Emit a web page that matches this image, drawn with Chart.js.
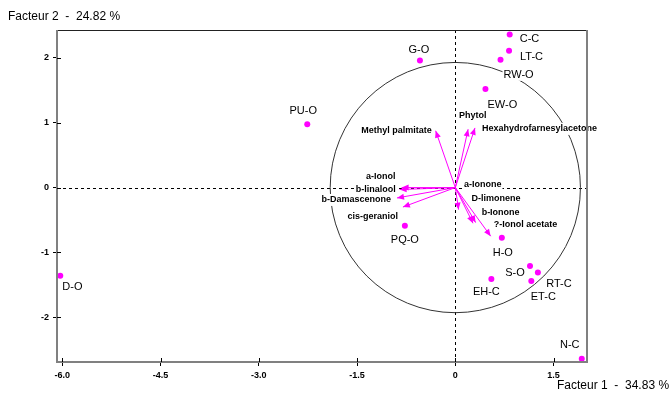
<!DOCTYPE html>
<html><head><meta charset="utf-8">
<script src="https://cdn.jsdelivr.net/npm/chart.js@4/dist/chart.umd.min.js"></script>
<style>html,body{margin:0;padding:0;background:#fff;}canvas{display:block;}</style>
</head><body>
<canvas id="c" width="669" height="394"></canvas>
<script>
// ---- data ----
const obsNames = ['C-C','LT-C','RW-O','EW-O','G-O','PU-O','D-O','PQ-O','H-O','S-O','RT-C','ET-C','EH-C','N-C'];
const obsX = [0.83, 0.82, 0.69, 0.46, -0.54, -2.26, -6.03, -0.77, 0.71, 1.14, 1.26, 1.16, 0.55, 1.93];
const obsY = [2.36, 2.11, 1.97, 1.52, 1.96, 0.975, -1.36, -0.59, -0.775, -1.21, -1.31, -1.44, -1.41, -2.64];
const varNames = ['Methyl palmitate','Phytol','Hexahydrofarnesylacetone','a-Ionol','b-linalool','b-Damascenone','cis-geraniol','a-Ionone','D-limonene','b-Ionone','?-Ionol acetate'];
const varX = [-0.30, 0.195, 0.30, -0.82, -0.85, -0.89, -0.80, 0.27, 0.05, 0.31, 0.54];
const varY = [0.876, 0.90, 0.92, 0.0, -0.03, -0.16, -0.30, -0.55, -0.34, -0.54, -0.75];
const xTicks = [-6.0, -4.5, -3.0, -1.5, 0, 1.5];
const yTicks = [-2, -1, 0, 1, 2];
const circleRadius = 1.91;
const xTitle = 'Facteur 1  -  34.83 %';
const yTitle = 'Facteur 2  -  24.82 %';

// ---- label placement (style only) ----
const obsLabelPlace = [[10,4,'left'],[11,6,'left'],[3,15,'left'],[2,16,'left'],[-1,-11,'center'],[-4,-13,'center'],[2,11,'left'],[0,14,'center'],[1,15,'center'],[-15,7,'center'],[21,11,'center'],[12,16,'center'],[-5,13,'center'],[-12,-14,'center']];
const varLabelPlace = [[-4,0,'right'],[-9,-14,'left'],[7,1,'left'],[-6,-11,'right'],[-4,0,'right'],[-6,2,'right'],[-5,9,'right'],[-9,-39,'left'],[13,-11,'left'],[6,-10,'left'],[3,-12,'left']];

const FONT = '"Liberation Sans", Arial, sans-serif';
const MAG = '#ff00ff';

function textBox(ctx, txt, x, y, align) {
  const w = ctx.measureText(txt).width;
  let left = align === 'left' ? x : align === 'right' ? x - w : x - w / 2;
  ctx.fillStyle = '#fff';
  ctx.fillRect(left - 1, y - 6, w + 2, 12);
  ctx.fillStyle = '#000';
  ctx.textAlign = align;
  ctx.textBaseline = 'middle';
  ctx.fillText(txt, x, y);
}

const pcaPlugin = {
  id: 'pca',
  beforeDatasetsDraw(chart) {
    const ctx = chart.ctx, xs = chart.scales.x, ys = chart.scales.y, a = chart.chartArea;
    const x0 = xs.getPixelForValue(0), y0 = ys.getPixelForValue(0);
    ctx.save();
    // dashed axes
    ctx.strokeStyle = '#000'; ctx.lineWidth = 1; ctx.setLineDash([3, 3]);
    ctx.beginPath();
    ctx.moveTo(Math.round(x0) + 0.5, a.top); ctx.lineTo(Math.round(x0) + 0.5, a.bottom);
    ctx.moveTo(a.left, Math.round(y0) + 0.5); ctx.lineTo(a.right, Math.round(y0) + 0.5);
    ctx.stroke();
    ctx.setLineDash([]);
    // correlation circle
    const r = xs.getPixelForValue(circleRadius) - x0;
    ctx.strokeStyle = '#333';
    ctx.beginPath(); ctx.arc(x0, y0, r, 0, Math.PI * 2); ctx.stroke();
    // observation labels
    ctx.font = '11px ' + FONT;
    obsNames.forEach((n, i) => {
      const px = xs.getPixelForValue(obsX[i]), py = ys.getPixelForValue(obsY[i]);
      const p = obsLabelPlace[i];
      textBox(ctx, n, px + p[0], py + p[1], p[2]);
    });
    // variable labels
    ctx.font = 'bold 9px ' + FONT;
    varNames.forEach((n, i) => {
      const px = xs.getPixelForValue(varX[i]), py = ys.getPixelForValue(varY[i]);
      const p = varLabelPlace[i];
      textBox(ctx, n, px + p[0], py + p[1], p[2]);
    });
    // arrows
    ctx.strokeStyle = MAG; ctx.fillStyle = MAG; ctx.lineWidth = 1;
    varNames.forEach((n, i) => {
      const px = xs.getPixelForValue(varX[i]), py = ys.getPixelForValue(varY[i]);
      const ang = Math.atan2(py - y0, px - x0);
      ctx.beginPath(); ctx.moveTo(x0, y0); ctx.lineTo(px, py); ctx.stroke();
      const L = 7, W = 3;
      ctx.beginPath();
      ctx.moveTo(px, py);
      ctx.lineTo(px - L * Math.cos(ang) + W * Math.sin(ang), py - L * Math.sin(ang) - W * Math.cos(ang));
      ctx.lineTo(px - L * Math.cos(ang) - W * Math.sin(ang), py - L * Math.sin(ang) + W * Math.cos(ang));
      ctx.closePath(); ctx.fill();
    });
    ctx.restore();
  },
  afterDraw(chart) {
    const ctx = chart.ctx, xs = chart.scales.x, ys = chart.scales.y, a = chart.chartArea;
    ctx.save();
    // frame
    ctx.strokeStyle = '#222'; ctx.lineWidth = 1;
    ctx.beginPath(); ctx.moveTo(a.left, a.top + 0.5); ctx.lineTo(a.right, a.top + 0.5); ctx.stroke();
    ctx.strokeStyle = '#808080'; ctx.lineWidth = 2;
    ctx.beginPath();
    ctx.moveTo(a.left, a.top); ctx.lineTo(a.left, a.bottom); ctx.lineTo(a.right, a.bottom); ctx.lineTo(a.right, a.top);
    ctx.stroke();
    // inner tick stubs
    ctx.strokeStyle = '#000'; ctx.lineWidth = 1;
    ctx.beginPath();
    xTicks.forEach(v => { const p = Math.round(xs.getPixelForValue(v)) + 0.5; ctx.moveTo(p, a.bottom); ctx.lineTo(p, a.bottom - 4); });
    yTicks.forEach(v => { const p = Math.round(ys.getPixelForValue(v)) + 0.5; ctx.moveTo(a.left, p); ctx.lineTo(a.left + 4, p); });
    ctx.stroke();
    // axis titles
    ctx.fillStyle = '#000'; ctx.font = '12px ' + FONT; ctx.textBaseline = 'middle';
    ctx.textAlign = 'left';
    ctx.fillText(yTitle, 8, 17);
    ctx.fillText(xTitle, 557, 386);
    ctx.restore();
  }
};

new Chart(document.getElementById('c'), {
  type: 'scatter',
  data: {
    datasets: [{
      data: obsX.map((x, i) => ({ x: x, y: obsY[i] })),
      backgroundColor: MAG, borderColor: MAG,
      pointRadius: 3, pointBorderWidth: 0, pointStyle: 'circle'
    }]
  },
  options: {
    responsive: false, animation: false,
    layout: { padding: { top: 30, right: 82, left: 0, bottom: 0 } },
    plugins: { legend: { display: false }, tooltip: { enabled: false } },
    scales: {
      x: {
        type: 'linear', min: -6.08, max: 2.01,
        afterFit(s) { s.height = 32; },
        afterBuildTicks(s) { s.ticks = xTicks.map(v => ({ value: v })); },
        grid: { drawOnChartArea: false, drawTicks: true, tickLength: 4, color: '#000' },
        border: { display: false },
        ticks: { color: '#000', font: { family: FONT, size: 9, weight: 'bold' }, padding: 4, maxRotation: 0,
          callback: v => v === 0 ? '0' : Number(v).toFixed(1) }
      },
      y: {
        type: 'linear', min: -2.69, max: 2.43,
        afterFit(s) { s.width = 57; },
        afterBuildTicks(s) { s.ticks = yTicks.map(v => ({ value: v })); },
        grid: { drawOnChartArea: false, drawTicks: true, tickLength: 4, color: '#000' },
        border: { display: false },
        ticks: { color: '#000', font: { family: FONT, size: 9, weight: 'bold' }, padding: 4,
          callback: v => String(v) }
      }
    }
  },
  plugins: [pcaPlugin]
});
</script>
</body></html>
